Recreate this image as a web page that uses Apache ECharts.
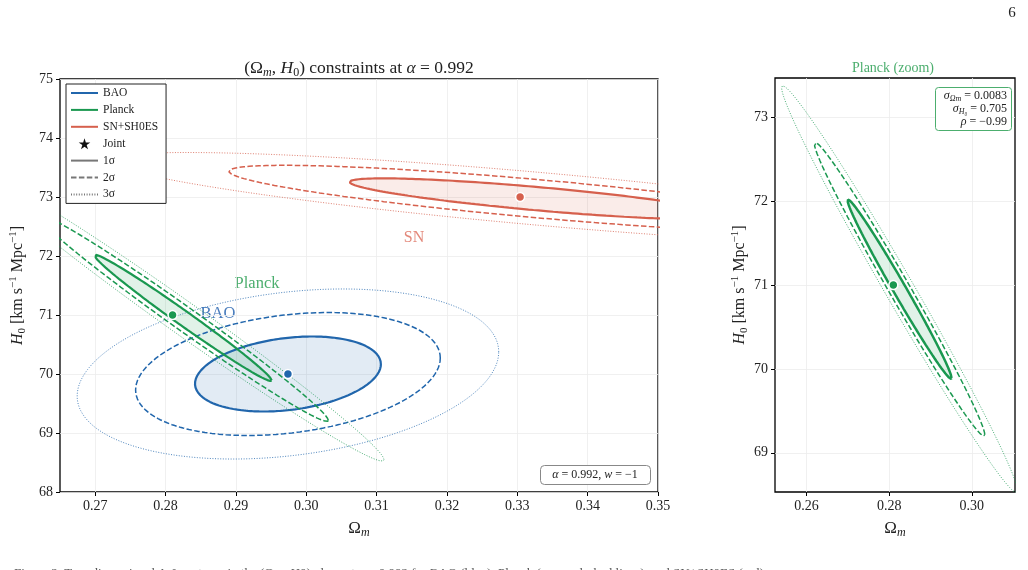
<!DOCTYPE html>
<html>
<head>
<meta charset="utf-8">
<script src="https://cdn.jsdelivr.net/npm/echarts@6/dist/echarts.min.js"></script>
<style>
html, body { margin: 0; padding: 0; background: #fff; }
#chart { width: 1028px; height: 570px; }
</style>
</head>
<body>
<div id="chart"></div>
<script>
// probes
const probes = ['BAO', 'Planck', 'SN+SH0ES'];
const centreOm = [0.2974, 0.2825, 0.3330];   // contour centres
const centreH0 = [70.00, 70.95, 72.97];
const sigmaOm = [0.00871, 0.0083, 0.0177];
const sigmaH0 = [0.419, 0.705, 0.228];
const rho = [0.26, -0.99, -0.82];
const bestOm = [0.2974, 0.2810, 0.3304];      // best-fit dots
const bestH0 = [70.00, 71.00, 73.00];
const dchi2 = [2.30, 6.18, 11.83];            // 1, 2, 3 sigma (2 dof)
const levels = ['1σ', '2σ', '3σ'];

const xTicksMain = [0.27, 0.28, 0.29, 0.30, 0.31, 0.32, 0.33, 0.34, 0.35];
const yTicksMain = [68, 69, 70, 71, 72, 73, 74, 75];
const xTicksZoom = [0.26, 0.28, 0.30];
const yTicksZoom = [69, 70, 71, 72, 73];

const colors = ['#2166ac', '#1a9850', '#d6604d'];
const fills = ['rgba(33,102,172,0.13)', 'rgba(26,152,80,0.13)', 'rgba(214,96,77,0.12)'];
const serif = "'Liberation Serif', 'DejaVu Serif', serif";

// contour of the gaussian with given covariance
function ring(i, k) {
  var pts = [];
  var n = 240;
  var q = Math.sqrt(1 - rho[i] * rho[i]);
  for (var j = 0; j <= n; j++) {
    var t = 2 * Math.PI * j / n;
    var c = Math.cos(t), s = Math.sin(t);
    pts.push([centreOm[i] + k * sigmaOm[i] * c,
              centreH0[i] + k * sigmaH0[i] * (rho[i] * c + q * s)]);
  }
  return pts;
}

function mkRich(size) {
  var small = Math.round(size * 0.7);
  return {
    i: { fontFamily: serif, fontStyle: 'italic', fontSize: size, lineHeight: size + 4 },
    sub: { fontFamily: serif, fontSize: small, lineHeight: small, verticalAlign: 'bottom' },
    isub: { fontFamily: serif, fontStyle: 'italic', fontSize: small, lineHeight: small, verticalAlign: 'bottom' },
    sup: { fontFamily: serif, fontSize: small, lineHeight: small, verticalAlign: 'top' }
  };
}

function xAxis(g, min, max, ticks) {
  return {
    type: 'value', gridIndex: g, min: min, max: max,
    name: 'Ω{isub|m}', nameLocation: 'middle', nameGap: 22,
    nameTextStyle: { fontFamily: serif, fontSize: 17, color: '#222', lineHeight: 21, rich: mkRich(17) },
    axisLine: { show: false },
    axisTick: { show: true, customValues: ticks, length: 4, lineStyle: { color: '#000', width: 1 } },
    axisLabel: { customValues: ticks, formatter: function (v) { return v.toFixed(2); },
                 fontFamily: serif, fontSize: 14, color: '#222', margin: 7 },
    splitLine: { show: true, lineStyle: { color: '#ececec', width: 0.8 } }
  };
}
function yAxis(g, min, max, ticks, gap) {
  return {
    type: 'value', gridIndex: g, min: min, max: max,
    name: '{i|H}{sub|0} [km s{sup|−1} Mpc{sup|−1}]', nameLocation: 'middle', nameGap: gap, nameRotate: 90,
    nameTextStyle: { fontFamily: serif, fontSize: 16, color: '#222', lineHeight: 20, rich: mkRich(16) },
    axisLine: { show: false },
    axisTick: { show: true, customValues: ticks, length: 4, lineStyle: { color: '#000', width: 1 } },
    axisLabel: { customValues: ticks, fontFamily: serif, fontSize: 14, color: '#222', margin: 7 },
    splitLine: { show: true, lineStyle: { color: '#ececec', width: 0.8 } }
  };
}

const lineWidth = [[2.2, 1.5, 0.8], [2.5, 1.5, 0.8]];
const dash = ['solid', [5.5, 2.4], [1, 1.6]];

var series = [];
function addProbe(g, i) {
  var r1 = ring(i, Math.sqrt(dchi2[0]));
  series.push({
    type: 'custom', xAxisIndex: g, yAxisIndex: g, clip: true, silent: true, z: 1,
    data: [[centreOm[i], centreH0[i]]],
    renderItem: function (params, api) {
      return { type: 'polygon', shape: { points: r1.map(function (p) { return api.coord(p); }) },
               style: { fill: fills[i], stroke: null } };
    }
  });
  for (var l = 0; l < 3; l++) {
    series.push({
      name: (g === 0 && l === 0) ? probes[i] : probes[i] + ' ' + levels[l] + ' ' + g,
      type: 'line', xAxisIndex: g, yAxisIndex: g, data: ring(i, Math.sqrt(dchi2[l])),
      symbol: 'none', clip: true, silent: true, z: 3,
      lineStyle: { color: colors[i], width: lineWidth[g][l], type: dash[l] },
      itemStyle: { color: colors[i] }
    });
  }
  series.push({
    type: 'scatter', xAxisIndex: g, yAxisIndex: g, data: [[bestOm[i], bestH0[i]]],
    symbolSize: 9, z: 5, silent: true,
    itemStyle: { color: colors[i], borderColor: '#fff', borderWidth: 1.5, opacity: 1 }
  });
}
addProbe(0, 0);
addProbe(0, 1);
addProbe(0, 2);
addProbe(1, 1);

// legend-only entries
series.push({ name: 'Joint', type: 'scatter', xAxisIndex: 0, yAxisIndex: 0, data: [],
  symbol: 'path://M50,0 L61,35 L98,35 L68,57 L79,91 L50,70 L21,91 L32,57 L2,35 L39,35 Z',
  itemStyle: { color: '#111' } });
for (var l = 0; l < 3; l++) {
  series.push({ name: levels[l], type: 'line', xAxisIndex: 0, yAxisIndex: 0, data: [], symbol: 'none',
    lineStyle: { color: '#777', width: [1.8, 1.3, 0.9][l], type: dash[l] }, itemStyle: { color: '#777' } });
}

const chart = echarts.init(document.getElementById('chart'), null, { renderer: 'canvas' });
chart.setOption({
  animation: false,
  backgroundColor: '#fff',
  grid: [
    { left: 60, top: 79, width: 598, height: 413, show: true, borderColor: '#000', borderWidth: 1.3,
      backgroundColor: 'transparent', outerBoundsMode: 'none', containLabel: false },
    { left: 775, top: 78, width: 240, height: 414, show: true, borderColor: '#000', borderWidth: 1.3,
      backgroundColor: 'transparent', outerBoundsMode: 'none', containLabel: false }
  ],
  xAxis: [xAxis(0, 0.265, 0.35, xTicksMain), xAxis(1, 0.25235, 0.31045, xTicksZoom)],
  yAxis: [yAxis(0, 68, 75, yTicksMain, 31), yAxis(1, 68.5325, 73.4675, yTicksZoom, 24)],
  legend: {
    data: ['BAO', 'Planck', 'SN+SH0ES', { name: 'Joint', itemStyle: { opacity: 1 } }, '1σ', '2σ', '3σ'],
    orient: 'vertical', left: 66, top: 84,
    itemWidth: 27, itemHeight: 11, itemGap: 4.9,
    padding: [3, 8, 3, 4],
    itemStyle: { opacity: 0 },
    backgroundColor: '#fff', borderColor: '#222', borderWidth: 1, borderRadius: 0,
    selectedMode: false,
    textStyle: { fontFamily: serif, fontSize: 11.5, color: '#222', lineHeight: 12 }
  },
  graphic: [
    { type: 'text', x: 359, y: 68, style: {
        text: '(Ω{isub|m}, {i|H}{sub|0}) constraints at {i|α} = 0.992',
        font: '17.5px ' + serif, fill: '#222', align: 'center', verticalAlign: 'middle', rich: mkRich(17.5) } },
    { type: 'text', x: 893, y: 68, style: {
        text: 'Planck (zoom)', font: '14px ' + serif, fill: '#4cae6e', align: 'center', verticalAlign: 'middle' } },
    { type: 'text', x: 257, y: 284, style: {
        text: 'Planck', font: '16.5px ' + serif, fill: '#4cae6e', align: 'center', verticalAlign: 'middle' } },
    { type: 'text', x: 218, y: 314, style: {
        text: 'BAO', font: '16.5px ' + serif, fill: '#4a7dbd', align: 'center', verticalAlign: 'middle' } },
    { type: 'text', x: 414, y: 238, style: {
        text: 'SN', font: '16px ' + serif, fill: '#e3887a', align: 'center', verticalAlign: 'middle' } },
    { type: 'rect', shape: { x: 540.5, y: 465.5, width: 110, height: 19, r: 4 },
      style: { fill: '#fff', stroke: '#888', lineWidth: 1 }, z: 50 },
    { type: 'text', x: 595, y: 475, z: 51, style: {
        text: '{ii|α} = 0.992, {ii|w} = −1', font: '12px ' + serif, fill: '#222', align: 'center', verticalAlign: 'middle',
        rich: { ii: { fontFamily: serif, fontStyle: 'italic', fontSize: 12 } } } },
    { type: 'rect', shape: { x: 935.5, y: 87.5, width: 76, height: 43, r: 3 },
      style: { fill: '#fff', stroke: '#4cae6e', lineWidth: 1 }, z: 50 },
    { type: 'text', x: 1007, y: 96, z: 51, style: {
        text: '{ii|σ}{ss|Ωm} = 0.0083', font: '12px ' + serif, fill: '#222', align: 'right', verticalAlign: 'middle',
        rich: { ii: { fontFamily: serif, fontStyle: 'italic', fontSize: 12, lineHeight: 14 },
                ss: { fontFamily: serif, fontStyle: 'italic', fontSize: 8, lineHeight: 8, verticalAlign: 'bottom' } } } },
    { type: 'text', x: 1007, y: 109, z: 51, style: {
        text: '{ii|σ}{ss|H₀} = 0.705', font: '12px ' + serif, fill: '#222', align: 'right', verticalAlign: 'middle',
        rich: { ii: { fontFamily: serif, fontStyle: 'italic', fontSize: 12, lineHeight: 14 },
                ss: { fontFamily: serif, fontStyle: 'italic', fontSize: 8, lineHeight: 8, verticalAlign: 'bottom' } } } },
    { type: 'text', x: 1007, y: 122, z: 51, style: {
        text: '{ii|ρ} = −0.99', font: '12px ' + serif, fill: '#222', align: 'right', verticalAlign: 'middle',
        rich: { ii: { fontFamily: serif, fontStyle: 'italic', fontSize: 12 } } } },
    { type: 'text', x: 1012, y: 13, style: {
        text: '6', font: '15px ' + serif, fill: '#222', align: 'center', verticalAlign: 'middle' } },
    { type: 'text', x: 14, y: 567, style: {
        text: 'Figure 2. Two-dimensional Δχ² contours in the (Ωm, H0) plane at α = 0.992 for BAO (blue), Planck (green, dashed lines), and SN+SH0ES (red)',
        font: '13px ' + serif, fill: '#555', align: 'left', verticalAlign: 'top' } }
  ],
  series: series
});
</script>
</body>
</html>
